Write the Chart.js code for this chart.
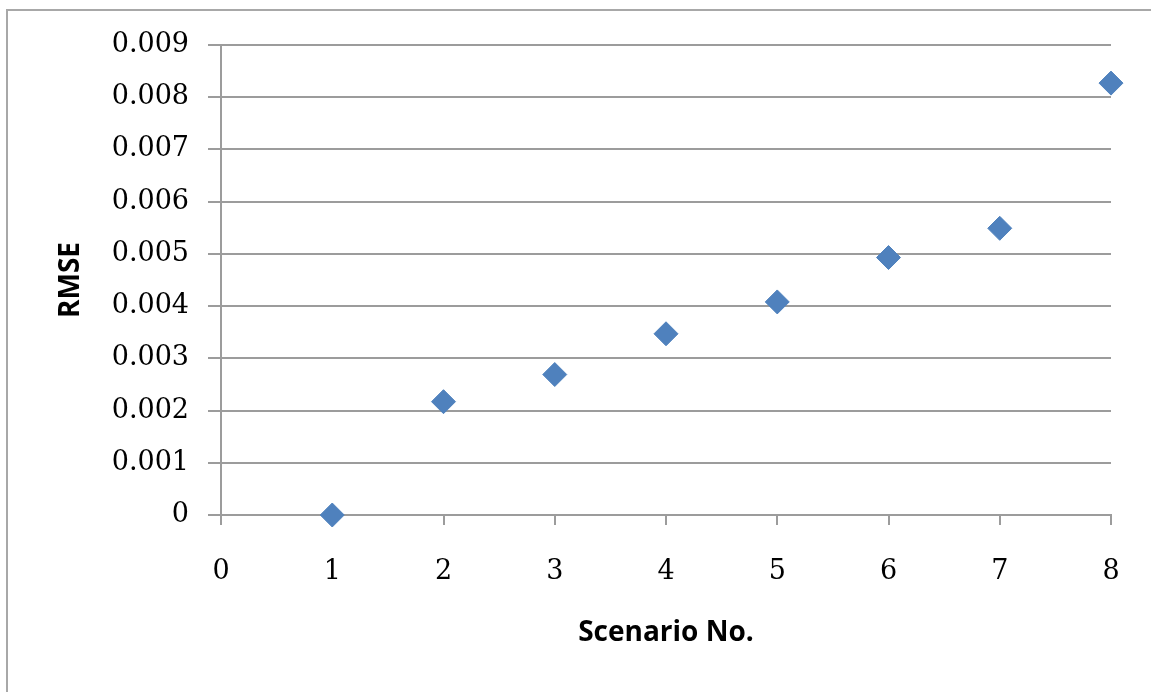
<!DOCTYPE html>
<html>
<head>
<meta charset="utf-8">
<script src="https://cdn.jsdelivr.net/npm/chart.js@4"></script>
<style>
  html, body { margin: 0; padding: 0; background: #ffffff; overflow: hidden; }
  #frame {
    position: absolute; left: 6px; top: 9px; width: 1300px; height: 900px;
    border: 2px solid #a8a8a8; box-sizing: border-box;
  }
  #chart { position: absolute; left: 0; top: 0; }
</style>
</head>
<body>
<div id="frame"></div>
<canvas id="chart" width="1151" height="692"></canvas>
<script>
// Scenario numbers and their RMSE values
const scenarios = [1, 2, 3, 4, 5, 6, 7, 8];
const rmse = [0, 0.00217, 0.00269, 0.00347, 0.00408, 0.00493, 0.00549, 0.00827];

// Axis ticks
const xTicks = [0, 1, 2, 3, 4, 5, 6, 7, 8];
const yTicks = [0, 0.001, 0.002, 0.003, 0.004, 0.005, 0.006, 0.007, 0.008, 0.009];
const yTickLabels = ['0', '0.001', '0.002', '0.003', '0.004', '0.005', '0.006', '0.007', '0.008', '0.009'];

const lineColor = '#9c9c9c';
const tickFont = { family: 'DejaVu Serif', size: 27 };
const titleFont = { family: 'Open Sans', size: 28, weight: 'bold' };

new Chart(document.getElementById('chart'), {
  type: 'scatter',
  data: {
    datasets: [{
      data: scenarios.map((s, i) => ({ x: s, y: rmse[i] })),
      pointStyle: 'rectRot',
      pointRadius: 12,
      pointHoverRadius: 12,
      backgroundColor: '#4f81bd',
      borderColor: '#4f81bd',
      borderWidth: 1,
      clip: false
    }]
  },
  options: {
    responsive: false,
    animation: false,
    devicePixelRatio: 1,
    layout: { padding: { left: 0, top: 45, right: 40, bottom: 0 } },
    plugins: { legend: { display: false }, tooltip: { enabled: false } },
    scales: {
      x: {
        type: 'linear',
        min: 0, max: 8,
        afterBuildTicks: (axis) => { axis.ticks = xTicks.map(v => ({ value: v })); },
        afterFit: (axis) => { axis.height = 177; },
        border: { display: true, color: lineColor, width: 2 },
        grid: { drawOnChartArea: false, drawTicks: true, tickLength: 10, color: lineColor, lineWidth: 2 },
        ticks: { color: '#000', font: tickFont, padding: 31, maxRotation: 0 },
        title: {
          display: true, text: 'Scenario No.', color: '#000', font: titleFont,
          padding: { top: 0, bottom: 42 }
        }
      },
      y: {
        type: 'linear',
        min: 0, max: 0.009,
        afterBuildTicks: (axis) => { axis.ticks = yTicks.map(v => ({ value: v })); },
        afterFit: (axis) => { axis.width = 221; },
        border: { display: true, color: lineColor, width: 2 },
        grid: { drawTicks: true, tickLength: 13, color: lineColor, lineWidth: 2 },
        ticks: {
          color: '#000', font: tickFont, padding: 19,
          callback: (value, index) => yTickLabels[index]
        },
        title: {
          display: true, text: 'RMSE', color: '#000', font: titleFont,
          padding: { top: 54, bottom: 0 }
        }
      }
    }
  }
});
</script>
</body>
</html>
